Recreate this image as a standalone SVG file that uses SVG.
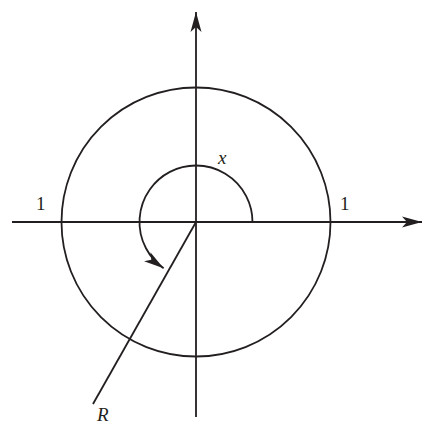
<svg xmlns="http://www.w3.org/2000/svg" width="436" height="433" viewBox="0 0 436 433">
<style>
.ln{fill:none;stroke:#231f20;stroke-width:1.8}
.lbl{font-family:"Liberation Serif",serif;font-size:19px;fill:#231f20}
.it{font-style:italic}
</style>
<defs>
<marker id="ah" markerUnits="userSpaceOnUse" markerWidth="24" markerHeight="14" viewBox="-21 -7 22 14" refX="0" refY="0" orient="auto">
<path d="M0,0 L-20,-5.5 L-15,0 L-20,5.5 Z" fill="#231f20"/>
</marker>
</defs>
<rect width="436" height="433" fill="#fff"/>
<g id="connectors">
<line id="x-axis" class="ln" x1="12" y1="222" x2="422" y2="222" marker-end="url(#ah)"/>
<line id="y-axis" class="ln" x1="196" y1="417" x2="196" y2="12" marker-end="url(#ah)"/>
<path id="angle-arc" class="ln" d="M252.5,222 A56.5,56.5 0 1 0 163.6,268.3" marker-end="url(#ah)"/>
<line id="radius" class="ln" x1="196" y1="222" x2="93" y2="404"/>
</g>
<g id="unit-circle">
<circle class="ln" cx="196" cy="222" r="134.5"/>
</g>
<g id="labels">
<text class="lbl it" x="218" y="164">x</text>
<text class="lbl" x="36" y="210">1</text>
<text class="lbl" x="340" y="210">1</text>
<text class="lbl it" x="97" y="421">R</text>
</g>
</svg>
